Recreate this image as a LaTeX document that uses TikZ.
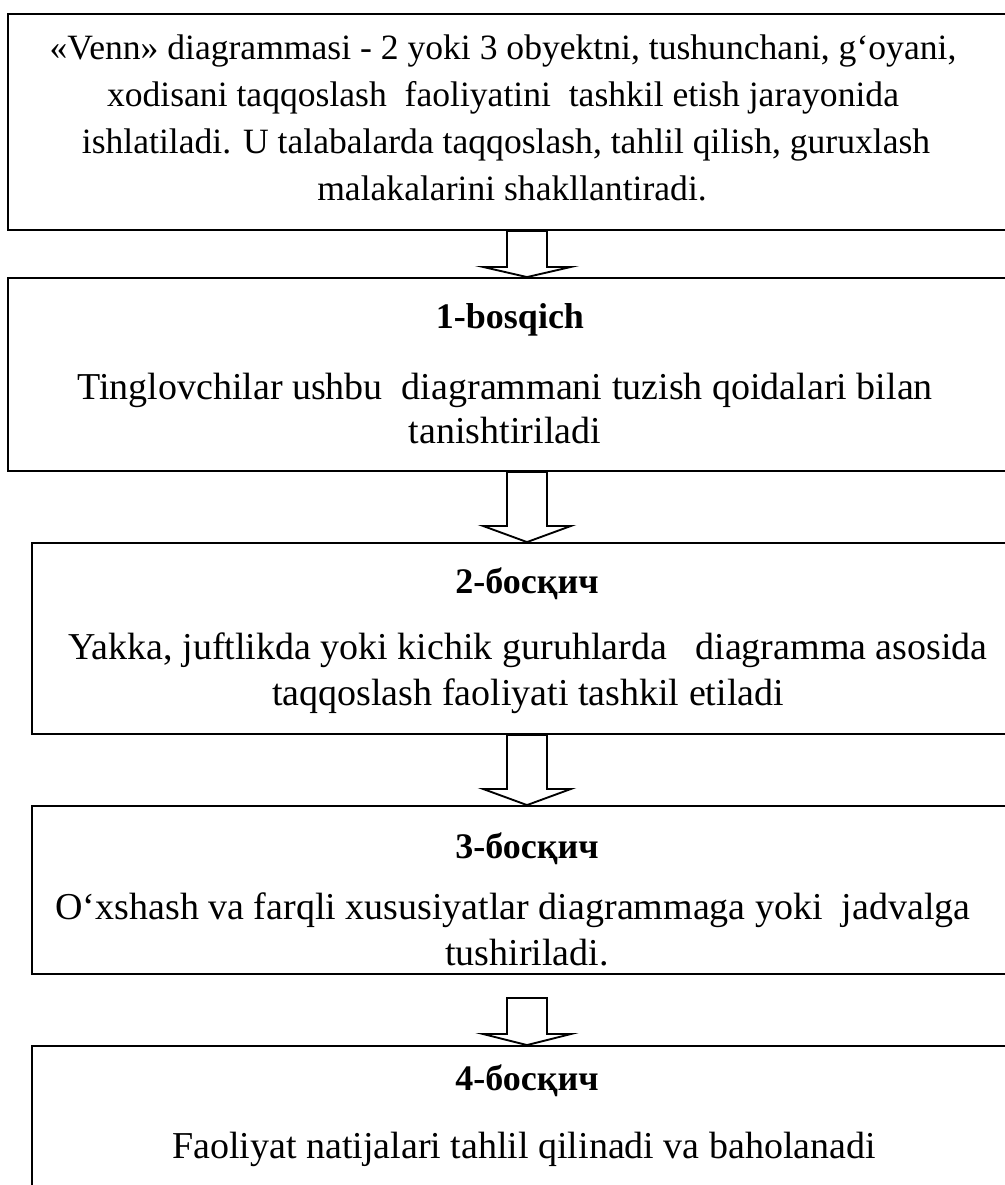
\documentclass[tikz,border=0pt]{standalone}
\usepackage{fontspec}
\setmainfont{Liberation Serif}
\usetikzlibrary{calc}
\begin{document}
\begin{tikzpicture}[x=0.75pt,y=-0.75pt,
  box/.style={draw, line width=1.4pt, rectangle, inner sep=0pt},
  txta/.style={anchor=base, inner sep=0pt, font=\fontsize{26.7}{32}\selectfont},
  txt/.style={anchor=base, inner sep=0pt, font=\fontsize{28.5}{32}\selectfont},
  ttl/.style={anchor=base, inner sep=0pt, font=\fontsize{27}{32}\selectfont\bfseries},
  barrow/.style={draw, line width=1.4pt, fill=white, line join=miter}]
\useasboundingbox (0,0) rectangle (1005,1185);
\coordinate (ax) at (527,0);
\begin{scope}
\clip (0,0) rectangle (1005,1185);
% boxes
\node[box, minimum width=753pt, minimum height=162pt] (b1) at (510,122) {};
\node[box, minimum width=753pt, minimum height=144.75pt] (b2) at (510,374.5) {};
\node[box, minimum width=742.5pt, minimum height=143.25pt] (b3) at (527,638.5) {};
\node[box, minimum width=742.5pt, minimum height=126pt] (b4) at (527,890) {};
\node[box, minimum width=742.5pt, minimum height=123pt] (b5) at (527,1128) {};
% texts box 1
\node[txta] (t11) at (503,59) {«Venn» diagrammasi - 2 yoki 3 obyektni, tushunchani, g‘oyani,};
\node[txta] (t12) at (503,106) {xodisani taqqoslash\ \ faoliyatini\ \ tashkil etish jarayonida};
\node[txta] (t13) at (506,153) {ishlatiladi. U talabalarda taqqoslash, tahlil qilish, guruxlash};
\node[txta] (t14) at (512,200) {malakalarini shakllantiradi.};
% box 2
\node[ttl] (t20) at (510,328) {1-bosqich};
\node[txt] (t21) at (505,399) {Tinglovchilar ushbu\ \ diagrammani tuzish qoidalari bilan};
\node[txt] (t22) at (505,443) {tanishtiriladi};
% box 3
\node[ttl] (t30) at (527,593) {2-босқич};
\node[txt] (t31) at (528,659) {Yakka, juftlikda yoki kichik guruhlarda\ \ \ diagramma asosida};
\node[txt] (t32) at (528,705) {taqqoslash faoliyati tashkil etiladi};
% box 4
\node[ttl] (t40) at (527,858) {3-босқич};
\node[txt] (t41) at (513,919) {O‘xshash va farqli xususiyatlar diagrammaga yoki\ \ jadvalga};
\node[txt] (t42) at (527,965) {tushiriladi.};
% box 5
\node[ttl] (t50) at (527,1090) {4-босқич};
\node[txt] (t51) at (524,1158) {Faoliyat natijalari tahlil qilinadi va baholanadi};
\end{scope}
% block arrows
\coordinate (a1t) at (b1.south -| ax);
\coordinate (a1b) at (b2.north -| ax);
\draw[barrow] ($(a1t)+(-20,0)$) -- ($(a1t)+(-20,36)$) -- ($(a1t)+(-44,36)$) -- (a1b)
  -- ($(a1t)+(44,36)$) -- ($(a1t)+(20,36)$) -- ($(a1t)+(20,0)$) -- cycle;
\coordinate (a2t) at (b2.south -| ax);
\coordinate (a2b) at (b3.north -| ax);
\draw[barrow] ($(a2t)+(-20,0)$) -- ($(a2t)+(-20,54)$) -- ($(a2t)+(-44,54)$) -- (a2b)
  -- ($(a2t)+(44,54)$) -- ($(a2t)+(20,54)$) -- ($(a2t)+(20,0)$) -- cycle;
\coordinate (a3t) at (b3.south -| ax);
\coordinate (a3b) at (b4.north -| ax);
\draw[barrow] ($(a3t)+(-20,0)$) -- ($(a3t)+(-20,54)$) -- ($(a3t)+(-44,54)$) -- (a3b)
  -- ($(a3t)+(44,54)$) -- ($(a3t)+(20,54)$) -- ($(a3t)+(20,0)$) -- cycle;
\coordinate (a4t) at (527,998);
\coordinate (a4b) at (b5.north -| ax);
\draw[barrow] ($(a4t)+(-20,0)$) -- ($(a4t)+(-20,36)$) -- ($(a4t)+(-44,36)$) -- (a4b)
  -- ($(a4t)+(44,36)$) -- ($(a4t)+(20,36)$) -- ($(a4t)+(20,0)$) -- cycle;
\end{tikzpicture}
\end{document}
